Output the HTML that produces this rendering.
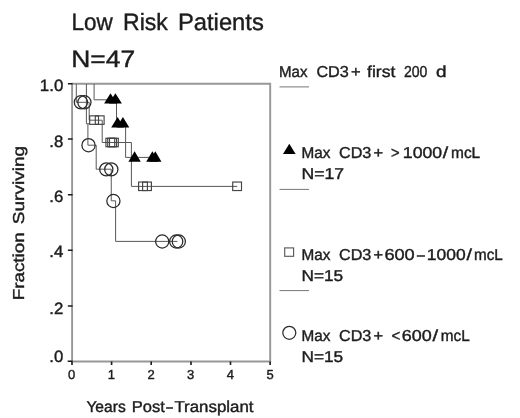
<!DOCTYPE html>
<html><head><meta charset="utf-8">
<style>
html,body{margin:0;padding:0;background:#fff;}
body{width:520px;height:418px;overflow:hidden;}
svg{display:block;}
text{font-family:"Liberation Sans",sans-serif;fill:#1c1c1c;stroke:#1c1c1c;stroke-width:0.4;text-rendering:geometricPrecision;}
.ln{stroke:#585858;stroke-width:1;fill:none;}
.ax{stroke:#979797;stroke-width:1.9;fill:none;}
.tk{stroke:#1a1a1a;stroke-width:1.6;fill:none;}
.lg{stroke:#777;stroke-width:1;fill:none;}
.ci{stroke:#2a2a2a;stroke-width:1.25;fill:none;}
.sq{stroke:#444;stroke-width:1.15;fill:none;}
.tr{fill:#000;stroke:none;}
</style></head>
<body>
<svg width="520" height="418" viewBox="0 0 520 418">
<defs><filter id="b" x="0" y="0" width="520" height="418" filterUnits="userSpaceOnUse"><feGaussianBlur stdDeviation="0.42"/></filter></defs>
<rect width="520" height="418" fill="#fff"/>
<g filter="url(#b)">

<!-- titles -->
<text x="71.45" y="30.2" font-size="23.6" textLength="41.24" lengthAdjust="spacingAndGlyphs">Low</text>
<text x="123.02" y="30.2" font-size="23.6" textLength="44.78" lengthAdjust="spacingAndGlyphs">Risk</text>
<text x="177.99" y="30.2" font-size="23.6" textLength="85.81" lengthAdjust="spacingAndGlyphs">Patients</text>
<text x="71.28" y="67.4" font-size="23.6" textLength="63.88" lengthAdjust="spacingAndGlyphs">N=47</text>

<!-- frame -->
<path class="ax" d="M72.1 83.7H270.2V361.5H72.1Z"/>

<!-- y ticks -->
<path class="tk" d="M67.9 83.7H72.6M67.9 139H72.6M67.9 194.7H72.6M67.9 250.3H72.6M67.9 306H72.6M67.7 361.2H72.6"/>
<!-- x ticks -->
<path class="tk" d="M72 361.5V365M111.6 361.5V365M151.2 361.5V365M191 361.5V365M230.5 361.5V365M270.1 361.5V365"/>

<!-- y labels -->
<g font-size="16.4" style="stroke-width:0.3">
<text x="39.8" y="90.6" textLength="23.5" lengthAdjust="spacingAndGlyphs">1.0</text>
<text x="49.3" y="146.5" textLength="14" lengthAdjust="spacingAndGlyphs">.8</text>
<text x="49.3" y="202.4" textLength="14" lengthAdjust="spacingAndGlyphs">.6</text>
<text x="49.3" y="257.2" textLength="14" lengthAdjust="spacingAndGlyphs">.4</text>
<text x="49.3" y="313.6" textLength="14" lengthAdjust="spacingAndGlyphs">.2</text>
<text x="49.3" y="362.1" textLength="14" lengthAdjust="spacingAndGlyphs">.0</text>
</g>
<!-- x labels -->
<g font-size="13" text-anchor="middle" style="stroke-width:0.15">
<text x="71.5" y="379.4">0</text>
<text x="111.3" y="379.4">1</text>
<text x="151" y="379.4">2</text>
<text x="190.7" y="379.4">3</text>
<text x="230.4" y="379.4">4</text>
<text x="270" y="379.4">5</text>
</g>
<text x="86.40" y="412.3" font-size="15.8" textLength="39.30" lengthAdjust="spacingAndGlyphs">Years</text>
<text x="131.76" y="412.3" font-size="15.8" textLength="33.01" lengthAdjust="spacingAndGlyphs">Post</text>
<text x="166.20" y="412.3" font-size="15.8" textLength="6.64" lengthAdjust="spacingAndGlyphs">–</text>
<text x="174.40" y="412.3" font-size="15.8" textLength="79.15" lengthAdjust="spacingAndGlyphs">Transplant</text>
<g transform="translate(24.2,0) rotate(-90)">
<text x="-300.39" y="0" font-size="15.8" textLength="68.13" lengthAdjust="spacingAndGlyphs">Fraction</text>
<text x="-224.20" y="0" font-size="15.8" textLength="78.35" lengthAdjust="spacingAndGlyphs">Surviving</text>
</g>

<!-- curves -->
<!-- circle curve -->
<path class="ln" d="M76.3 84V102.3H89.2V120.2M86.4 84V123.8H89.5M87.9 123.8V145.2H96.2V169.2H111.25V200.8H115.6V241.4H177.5"/>
<!-- square curve -->
<path class="ln" d="M90 120.2H102.2V142.5H131.4V186.4H237.2"/>
<!-- triangle curve -->
<path class="ln" d="M94.1 84V99.8H116.5V123H125.6V157.4H154"/>

<!-- circles -->
<g class="ci">
<circle cx="80.9" cy="102.3" r="6.6"/><circle cx="84.4" cy="102.3" r="6.6"/>
<circle cx="88.5" cy="145.2" r="6.6"/>
<circle cx="106.3" cy="169.4" r="6.6"/><circle cx="111.3" cy="169.4" r="6.6"/>
<circle cx="113.4" cy="201" r="6.6"/>
<circle cx="162.2" cy="241.5" r="6.6"/><circle cx="176.2" cy="241.5" r="6.6"/><circle cx="178.8" cy="241.5" r="6.6"/>
</g>
<!-- squares -->
<g class="sq">
<rect x="89.7" y="115.85" width="8.8" height="8.5"/><rect x="95.3" y="115.85" width="8.8" height="8.5"/>
<rect x="105.9" y="138.25" width="8.8" height="8.5"/><rect x="107.7" y="138.25" width="8.8" height="8.5"/><rect x="109.5" y="138.25" width="8.8" height="8.5"/>
<rect x="138.6" y="182.05" width="8.8" height="8.5"/><rect x="142.6" y="182.05" width="8.8" height="8.5"/>
<rect x="232.7" y="182.05" width="8.8" height="8.5"/>
</g>
<!-- triangles -->
<g class="tr">
<path d="M104.1 103.6L110.5 93.3L116.9 103.6Z"/><path d="M108.9 103.6L115.4 93.3L121.9 103.6Z"/>
<path d="M111.2 127.5L117.6 116.9L124.0 127.5Z"/><path d="M116.5 127.5L122.9 116.9L129.3 127.5Z"/>
<path d="M128.4 161.7L134.6 151.2L140.8 161.7Z"/>
<path d="M146.2 161.7L152.4 151.2L158.6 161.7Z"/><path d="M149.1 161.7L155.3 151.2L161.5 161.7Z"/>
</g>

<!-- legend -->
<g font-size="15.8">
<text x="279.05" y="76.9" textLength="28.46" lengthAdjust="spacingAndGlyphs">Max</text>
<text x="316.40" y="76.9" textLength="32.38" lengthAdjust="spacingAndGlyphs">CD3</text>
<text x="351.00" y="76.9" textLength="9.64" lengthAdjust="spacingAndGlyphs">+</text>
<text x="367.00" y="76.9" textLength="28.32" lengthAdjust="spacingAndGlyphs">first</text>
<text x="404.00" y="76.9" textLength="23.41" lengthAdjust="spacingAndGlyphs">200</text>
<text x="436.00" y="76.9" textLength="10.54" lengthAdjust="spacingAndGlyphs">d</text>
<text x="301.43" y="158.2" textLength="28.87" lengthAdjust="spacingAndGlyphs">Max</text>
<text x="339.00" y="158.2" textLength="32.38" lengthAdjust="spacingAndGlyphs">CD3</text>
<text x="373.60" y="158.2" textLength="9.64" lengthAdjust="spacingAndGlyphs">+</text>
<text x="391.00" y="158.2" textLength="8.61" lengthAdjust="spacingAndGlyphs">&gt;</text>
<text x="402.88" y="158.2" textLength="39.28" lengthAdjust="spacingAndGlyphs">1000</text>
<text x="442.80" y="158.2" textLength="5.44" lengthAdjust="spacingAndGlyphs">/</text>
<text x="451.02" y="158.2" textLength="29.17" lengthAdjust="spacingAndGlyphs">mcL</text>
<text x="301.49" y="178.8" textLength="42.59" lengthAdjust="spacingAndGlyphs">N=17</text>
<text x="301.43" y="260.3" textLength="28.87" lengthAdjust="spacingAndGlyphs">Max</text>
<text x="339.00" y="260.3" textLength="32.38" lengthAdjust="spacingAndGlyphs">CD3</text>
<text x="373.60" y="260.3" textLength="9.64" lengthAdjust="spacingAndGlyphs">+</text>
<text x="384.40" y="260.3" textLength="30.35" lengthAdjust="spacingAndGlyphs">600</text>
<text x="417.00" y="260.3" textLength="7.81" lengthAdjust="spacingAndGlyphs">–</text>
<text x="426.89" y="260.3" textLength="38.87" lengthAdjust="spacingAndGlyphs">1000</text>
<text x="466.40" y="260.3" textLength="5.44" lengthAdjust="spacingAndGlyphs">/</text>
<text x="474.04" y="260.3" textLength="28.76" lengthAdjust="spacingAndGlyphs">mcL</text>
<text x="301.51" y="281" textLength="41.66" lengthAdjust="spacingAndGlyphs">N=15</text>
<text x="301.43" y="341.1" textLength="28.87" lengthAdjust="spacingAndGlyphs">Max</text>
<text x="339.00" y="341.1" textLength="32.38" lengthAdjust="spacingAndGlyphs">CD3</text>
<text x="373.60" y="341.1" textLength="9.64" lengthAdjust="spacingAndGlyphs">+</text>
<text x="391.60" y="341.1" textLength="8.82" lengthAdjust="spacingAndGlyphs">&lt;</text>
<text x="401.80" y="341.1" textLength="29.96" lengthAdjust="spacingAndGlyphs">600</text>
<text x="432.60" y="341.1" textLength="5.62" lengthAdjust="spacingAndGlyphs">/</text>
<text x="440.83" y="341.1" textLength="28.96" lengthAdjust="spacingAndGlyphs">mcL</text>
<text x="301.51" y="362.1" textLength="41.66" lengthAdjust="spacingAndGlyphs">N=15</text>
</g>
<path class="lg" d="M279.5 86.9H309M279.5 189.4H309M279.5 290.6H309"/>
<path class="tr" d="M283 154.1L289.3 143.7L295.6 154.1Z"/>
<rect class="sq" x="284.7" y="247.9" width="8.9" height="8.4" style="stroke:#5a5a5a"/>
<circle class="ci" cx="289.3" cy="332.8" r="6.5"/>
</g>
</svg>
</body></html>
